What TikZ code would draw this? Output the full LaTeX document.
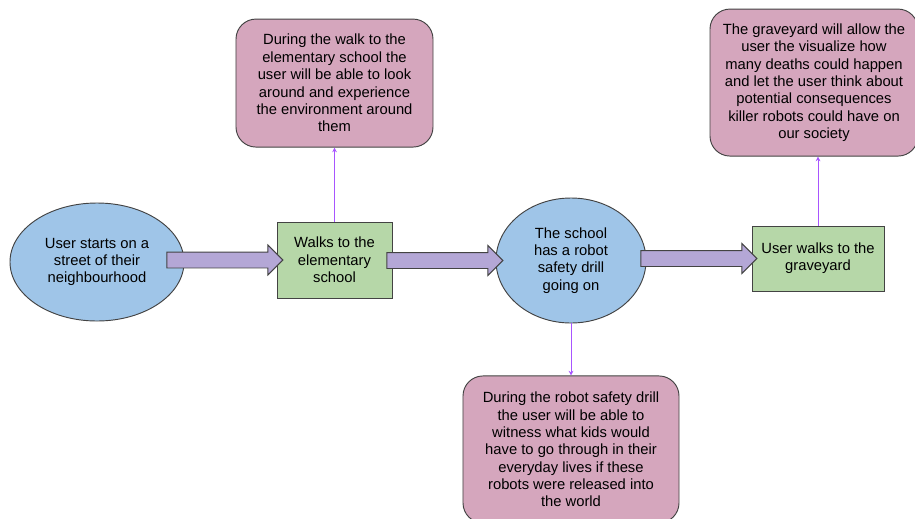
\documentclass[tikz,border=0pt]{standalone}
\usepackage{fontspec}
\setmainfont{Liberation Sans}
\usepackage{tikz}
\usetikzlibrary{arrows.meta,positioning,shapes.geometric,shapes.arrows}
\definecolor{walk_blue}{RGB}{159,197,232}
\definecolor{walk_green}{RGB}{182,215,168}
\definecolor{walk_pink}{RGB}{213,166,189}
\definecolor{walk_lilac}{RGB}{180,167,214}
\definecolor{walk_line}{RGB}{67,67,67}
\definecolor{walk_violet}{RGB}{168,85,255}

\begin{document}
\begin{tikzpicture}[
      x=0.03cm, y=-0.03cm,
      txt/.style={align=center, font=\fontsize{12.6}{14.8}\selectfont, inner sep=0pt},
      oval/.style={txt, ellipse, draw=walk_line, line width=0.8pt, fill=walk_blue},
      stepbox/.style={txt, rectangle, draw=walk_line, line width=0.8pt, fill=walk_green},
      note/.style={txt, rectangle, rounded corners=0.6cm, draw=walk_line,
                   line width=0.8pt, fill=walk_pink},
      blockarr/.style={single arrow, draw=walk_line, line width=0.8pt, fill=walk_lilac,
                       minimum height=3.48cm, inner sep=0pt,
                       text height=0.45cm, text depth=0pt, text width=0pt,
                       single arrow head extend=0.21cm, single arrow tip angle=90,
                       anchor=tip},
      link/.style={-{Stealth[length=4pt,width=4pt]}, walk_violet, line width=0.6pt},
    ]
    \useasboundingbox (0,0) rectangle (915,518);

    % main row
    \node[oval, minimum width=5.22cm, minimum height=3.54cm] (start) at (97,262)
      {User starts on a\\street of their\\neighbourhood};
    \node[stepbox, minimum width=3.45cm, minimum height=2.28cm] (walk) at (334.5,260)
      {Walks to the\\elementary\\school};
    \node[oval, minimum width=4.5cm, minimum height=3.75cm] (drill) at (571,260.5)
      {The school\\has a robot\\safety drill\\going on};
    \node[stepbox, minimum width=3.96cm, minimum height=1.95cm] (grave) at (818,258.5)
      {User walks to the\\graveyard};

    % notes
    \node[note, minimum width=5.91cm, minimum height=3.84cm, above=2.22cm of walk] (walknote)
      {During the walk to the\\elementary school the\\user will be able to look\\around and experience\\the environment around\\them};
    \node[note, minimum width=6.48cm, minimum height=4.41cm, below=1.56cm of drill] (drillnote)
      {During the robot safety drill\\the user will be able to\\witness what kids would\\have to go through in their\\everyday lives if these\\robots were released into\\the world};
    \node[note, minimum width=6.24cm, minimum height=4.41cm, above=2.07cm of grave, xshift=-0.12cm] (gravenote)
      {The graveyard will allow the\\user the visualize how\\many deaths could happen\\and let the user think about\\potential consequences\\killer robots could have on\\our society};

    % block arrows
    \node[blockarr] (a1) at ([xshift=0.21cm]walk.west) {};
    \node[blockarr] (a2) at ([xshift=0.24cm]drill.west) {};
    \node[blockarr] (a3) at ([xshift=0.18cm]grave.west) {};

    % thin links to the notes
    \draw[link] (walk.north) -- (walk.north |- walknote.south);
    \draw[link] (drill.south) -- (drill.south |- drillnote.north);
    \draw[link] (grave.north) -- (grave.north |- gravenote.south);
  \end{tikzpicture}
\end{document}
